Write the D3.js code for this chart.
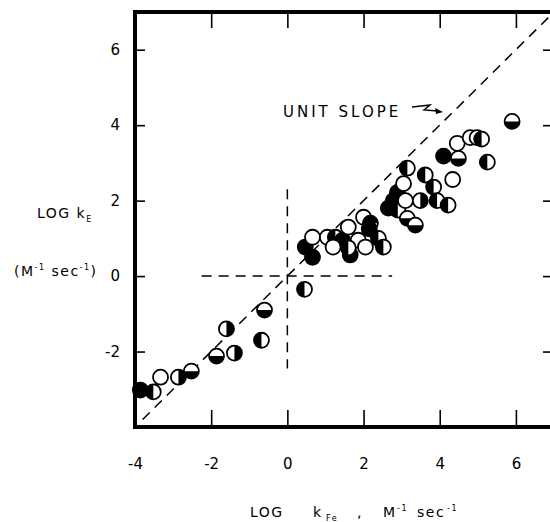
<!DOCTYPE html>
<html>
<head>
<meta charset="utf-8">
<script src="https://cdn.jsdelivr.net/npm/d3@7"></script>
<style>
  body { margin: 0; background: #fff; }
  text { font-family: "DejaVu Sans", sans-serif; fill: #000; }
</style>
</head>
<body>
<script>
// data
var logKFe = [-3.86, -3.52, -3.33, -2.86, -2.52, -1.86, -1.39, -1.6, -0.68, -0.6, 0.45,
  0.47, 0.66, 0.66, 1.05, 1.26, 1.45, 1.6, 1.65, 1.86, 2.0, 2.18, 2.05, 2.39, 2.52, 1.2, 1.6, 2.15,
  2.65, 2.78, 2.9, 2.89, 3.1, 3.05, 3.15, 3.15, 3.36, 3.49, 3.62, 3.84, 3.93, 4.22, 4.34,
  4.1, 4.49, 4.46, 4.8, 4.98, 5.1, 5.25, 5.9];
var logKE = [-3.02, -3.07, -2.68, -2.68, -2.52, -2.12, -2.04, -1.4, -1.7, -0.9, -0.35,
  0.77, 0.5, 1.03, 1.03, 1.03, 0.95, 1.3, 0.56, 0.95, 1.56, 1.4, 0.77, 1.0, 0.77, 0.77, 0.75, 1.25,
  1.8, 2.0, 1.75, 2.22, 2.0, 2.45, 2.86, 1.53, 1.35, 2.0, 2.68, 2.36, 2.0, 1.88, 2.56,
  3.18, 3.12, 3.52, 3.67, 3.67, 3.63, 3.02, 4.1];
// which half of the symbol is black
var fillType = ["full", "left", "open", "right", "bottom", "bottom", "right", "right", "left", "bottom", "left",
  "full", "full", "open", "open", "left", "full", "open", "full", "open", "open", "top", "open", "left", "left", "open", "left", "full",
  "full", "full", "left", "full", "open", "open", "left", "bottom", "bottom", "right", "left", "left", "left", "left", "open",
  "full", "bottom", "open", "open", "open", "left", "left", "bottom"];
var tickVals = [-4, -2, 0, 2, 4, 6];
var hLine = {x: [-2.25, 2.75], y: 0};
var vLine = {x: 0, y: [-2.45, 2.3]};
var unitSlope = [-3.8, 7];

var width = 550, height = 522;
var svg = d3.select("body").append("svg")
  .attr("width", width)
  .attr("height", height);

var x = d3.scaleLinear().domain([-4, 7]).range([135, 554]);
var y = d3.scaleLinear().domain([-4, 7]).range([427, 12]);

var fmt = function(d) { return String(d); };

// axes, ticks pointing inward
var bottomAxis = svg.append("g")
  .attr("transform", "translate(0," + y(-4) + ")")
  .call(d3.axisBottom(x).tickValues(tickVals).tickSize(-17).tickPadding(31).tickFormat(fmt));
var topAxis = svg.append("g")
  .attr("transform", "translate(0," + y(7) + ")")
  .call(d3.axisTop(x).tickValues(tickVals).tickSize(-16).tickFormat(""));
var leftAxis = svg.append("g")
  .attr("transform", "translate(" + x(-4) + ",0)")
  .call(d3.axisLeft(y).tickValues(tickVals.slice(1)).tickSize(-10).tickPadding(15).tickFormat(fmt));
var rightAxis = svg.append("g")
  .attr("transform", "translate(" + x(7) + ",0)")
  .call(d3.axisRight(y).tickValues(tickVals.slice(1)).tickSize(-11).tickFormat(""));

[bottomAxis, topAxis, leftAxis, rightAxis].forEach(function(g) {
  g.select(".domain").remove();
  g.selectAll(".tick line").attr("stroke", "#000").attr("stroke-width", 1.6);
  g.selectAll(".tick text").attr("font-size", 15).attr("font-family", "DejaVu Sans, sans-serif");
});

// dashed guide lines
var dash = "10,7";
svg.append("line")
  .attr("x1", x(unitSlope[0])).attr("y1", y(unitSlope[0]))
  .attr("x2", x(unitSlope[1])).attr("y2", y(unitSlope[1]))
  .attr("stroke", "#000").attr("stroke-width", 1.5).attr("stroke-dasharray", dash);
svg.append("line")
  .attr("x1", x(hLine.x[0])).attr("y1", y(hLine.y))
  .attr("x2", x(hLine.x[1])).attr("y2", y(hLine.y))
  .attr("stroke", "#000").attr("stroke-width", 1.5).attr("stroke-dasharray", dash);
svg.append("line")
  .attr("x1", x(vLine.x)).attr("y1", y(vLine.y[1]))
  .attr("x2", x(vLine.x)).attr("y2", y(vLine.y[0]))
  .attr("stroke", "#000").attr("stroke-width", 1.5).attr("stroke-dasharray", dash);

// points
var r = 7.5;
var halves = {
  left: [Math.PI, 2 * Math.PI],
  right: [0, Math.PI],
  bottom: [Math.PI / 2, 3 * Math.PI / 2],
  top: [-Math.PI / 2, Math.PI / 2]
};
var arc = d3.arc().innerRadius(0).outerRadius(r);

var pts = logKFe.map(function(d, i) { return {x: d, y: logKE[i], f: fillType[i]}; });

var pointGroup = svg.selectAll(".pt")
  .data(pts)
  .enter()
  .append("g")
  .attr("class", "pt")
  .attr("transform", d => "translate(" + x(d.x) + "," + y(d.y) + ")");

pointGroup.append("circle")
  .attr("r", r)
  .attr("fill", d => d.f == "full" ? "#000" : "#fff");

pointGroup.filter(d => halves[d.f])
  .append("path")
  .attr("d", d => arc({startAngle: halves[d.f][0], endAngle: halves[d.f][1]}))
  .attr("fill", "#000");

pointGroup.append("circle")
  .attr("r", r)
  .attr("fill", "none")
  .attr("stroke", "#000")
  .attr("stroke-width", 1.8);

// frame
svg.append("rect")
  .attr("x", x(-4)).attr("y", y(7))
  .attr("width", x(7) - x(-4)).attr("height", y(-4) - y(7))
  .attr("fill", "none").attr("stroke", "#000").attr("stroke-width", 4);

// unit slope label with squiggle arrow
svg.append("text")
  .attr("x", 283).attr("y", 117)
  .attr("font-size", 15)
  .attr("letter-spacing", 3)
  .text("UNIT  SLOPE");
svg.append("path")
  .attr("d", "M412,107 L430,105 L424,110 L438,111")
  .attr("fill", "none").attr("stroke", "#000").attr("stroke-width", 1.4);
svg.append("path")
  .attr("d", "M443,112 L435,108 L436,114 Z")
  .attr("fill", "#000");

// y axis title
var yt = svg.append("text").attr("x", 37).attr("y", 218).attr("font-size", 14).attr("letter-spacing", 1.5);
yt.append("tspan").text("LOG  k");
yt.append("tspan").attr("font-size", 8).attr("dy", 4).text("E");

var yu = svg.append("text").attr("x", 14).attr("y", 276).attr("font-size", 14).attr("letter-spacing", 1.5);
yu.append("tspan").text("(M");
yu.append("tspan").attr("font-size", 8).attr("dy", -6).text("-1");
yu.append("tspan").attr("dy", 6).text(" sec");
yu.append("tspan").attr("font-size", 8).attr("dy", -6).text("-1");
yu.append("tspan").attr("dy", 6).text(")");

// x axis title
var xt = svg.append("text").attr("y", 517).attr("font-size", 14).attr("letter-spacing", 1.5);
xt.append("tspan").attr("x", 250).text("LOG");
xt.append("tspan").attr("x", 313).text("k");
xt.append("tspan").attr("x", 326).attr("font-size", 8).attr("dy", 4).text("Fe");
xt.append("tspan").attr("x", 357).attr("dy", -4).text(",");
xt.append("tspan").attr("x", 383).text("M");
xt.append("tspan").attr("x", 397).attr("font-size", 8).attr("dy", -6).text("-1");
xt.append("tspan").attr("x", 417).attr("dy", 6).text("sec");
xt.append("tspan").attr("x", 447).attr("font-size", 8).attr("dy", -6).text("-1");
</script>
</body>
</html>
